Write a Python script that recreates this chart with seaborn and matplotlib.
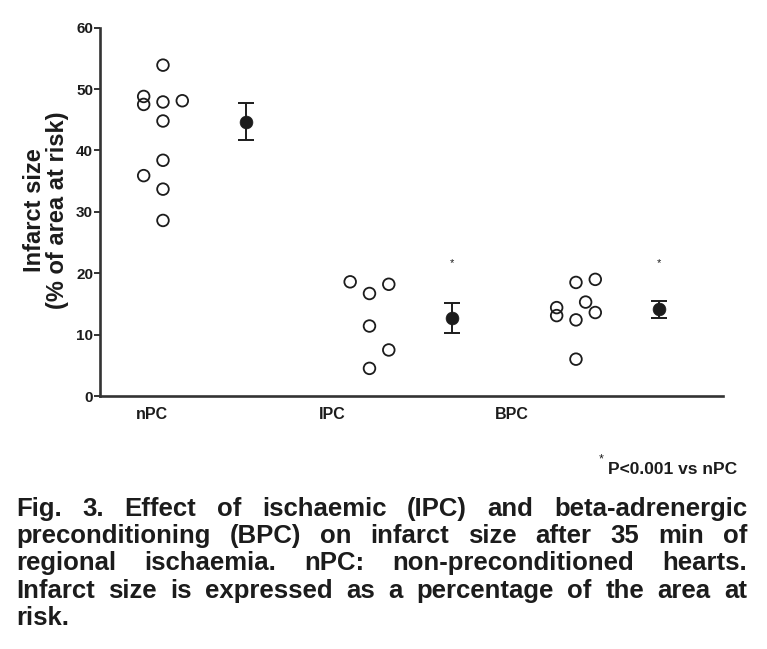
import matplotlib
matplotlib.use("Agg")
import matplotlib.pyplot as plt
import seaborn as sns
import pandas as pd
import numpy as np

sns.set_theme(style="white")
plt.rcParams['font.family'] = ['Liberation Sans', 'DejaVu Sans']

# ---------------- data ----------------
groups = ["nPC", "IPC", "BPC"]
npc_values = [53.9, 48.8, 47.5, 47.9, 48.1, 44.8, 38.4, 35.9, 33.7, 28.6]
ipc_values = [18.6, 16.7, 18.2, 11.4, 7.5, 4.5]
bpc_values = [18.5, 19.0, 15.3, 14.4, 13.1, 13.6, 12.4, 6.0]
group_means = [44.7, 12.7, 14.1]
group_sem = [3.0, 2.4, 1.45]
significant = [False, True, True]
y_ticks = [0, 10, 20, 30, 40, 50, 60]

caption_lines = [
    "Fig. 3. Effect of ischaemic (IPC) and beta-adrenergic",
    "preconditioning (BPC) on infarct size after 35 min of",
    "regional ischaemia. nPC: non-preconditioned hearts.",
    "Infarct size is expressed as a percentage of the area at",
    "risk.",
]

# ---------------- layout (horizontal slot of each point in its column) ----------------
npc_slots = [0, -1, -1, 0, 1, 0, 0, -1, 0, 0]
ipc_slots = [-1, 0, 1, 0, 1, 0]
bpc_slots = [0, 1, 0.5, -1, -1, 1, 0, 0]
slot_w = 0.0935
mean_offset = 0.40
label_pos = [-0.053, 0.818, 1.69]

rows = []
for gi, (vals, slots) in enumerate([(npc_values, npc_slots), (ipc_values, ipc_slots), (bpc_values, bpc_slots)]):
    for v, s in zip(vals, slots):
        rows.append({"group": groups[gi], "x": gi + s * slot_w, "value": v})
df = pd.DataFrame(rows)
mdf = pd.DataFrame({"group": groups, "x": [i + mean_offset for i in range(3)],
                    "mean": group_means, "sem": group_sem})

W, H = 767, 649
fig = plt.figure(figsize=(W / 100, H / 100), dpi=100)
fig.patch.set_facecolor("white")
ax = fig.add_axes([100 / W, (H - 396) / H, 623 / W, (396 - 27.7) / H])

ink = "#1c1c1c"

sns.scatterplot(data=df, x="x", y="value", ax=ax, marker="o", s=70,
                facecolors="none", edgecolor=ink, linewidth=1.3, legend=False,
                clip_on=False, zorder=3)

ax.errorbar(mdf["x"], mdf["mean"], yerr=mdf["sem"], fmt="none", ecolor=ink,
            elinewidth=1.4, capsize=5.5, capthick=1.4, zorder=2)
sns.scatterplot(data=mdf, x="x", y="mean", ax=ax, marker="o", s=85, color=ink,
                edgecolor=ink, linewidth=0.5, legend=False, zorder=4)

for i, sig in enumerate(significant):
    if sig:
        ax.text(mdf["x"][i], 21.6, "*", ha="center", va="center", fontsize=8, color=ink)

ax.set_xlim(-0.305, 2.712)
ax.set_ylim(0, 60)
ax.set_yticks(y_ticks)
ax.set_yticklabels([str(t) for t in y_ticks], fontweight="bold", fontsize=11, color=ink)
ax.set_xticks(label_pos)
ax.set_xticklabels(groups, fontweight="bold", fontsize=11.5, color=ink)
ax.tick_params(axis="x", length=0, pad=8)
ax.tick_params(axis="y", direction="out", length=4, width=1.4, color="#333333", pad=1, left=True)
ax.set_xlabel("")
ax.set_ylabel("")
for sp in ["top", "right"]:
    ax.spines[sp].set_visible(False)
for sp in ["left", "bottom"]:
    ax.spines[sp].set_linewidth(1.9)
    ax.spines[sp].set_color("#333333")

fig.text(46 / W, (H - 210) / H, "Infarct size\n(% of area at risk)", rotation=90,
         ha="center", va="center", fontsize=17, fontweight="bold", color=ink,
         linespacing=1.05, multialignment="center")

fig.text(601 / W, (H - 459) / H, "*", ha="center", va="center", fontsize=9, color=ink)
fig.text(608 / W, (H - 470) / H, "P<0.001 vs nPC", ha="left", va="center",
         fontsize=12.5, fontweight="bold", color=ink)

# ---------------- justified caption ----------------
renderer = fig.canvas.get_renderer()
left_px, right_px = 16, 747
baselines = [516, 543, 570, 598, 625]
cap_size = 18.5
for li, (line, yb) in enumerate(zip(caption_lines, baselines)):
    words = line.split(" ")
    texts = []
    for w in words:
        t = fig.text(0, (H - yb) / H, w, ha="left", va="baseline", fontsize=cap_size,
                     fontweight="bold", color=ink)
        texts.append(t)
    widths = [t.get_window_extent(renderer).width for t in texts]
    last = li == len(caption_lines) - 1
    if last or len(words) == 1:
        gap = cap_size * 0.278 * 100 / 72
    else:
        gap = (right_px - left_px - sum(widths)) / (len(words) - 1)
    x = left_px
    for t, wd in zip(texts, widths):
        t.set_x(x / W)
        x += wd + gap

fig.savefig("out.png", dpi=100, facecolor="white")
